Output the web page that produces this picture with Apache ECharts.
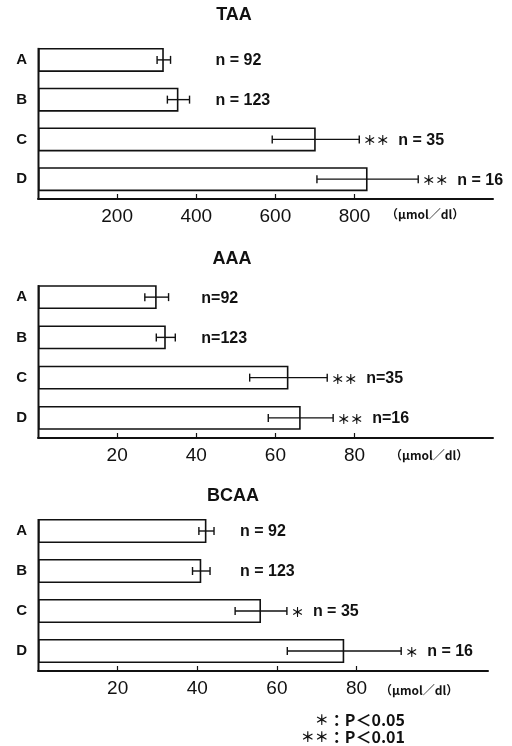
<!DOCTYPE html>
<html><head><meta charset="utf-8">
<script src="https://cdn.jsdelivr.net/npm/echarts@6/dist/echarts.min.js"></script>
<style>html,body{margin:0;padding:0;background:#fff}#c{width:512px;height:746px}</style>
</head><body><div id="c"></div>
<script>
const categories = ['A', 'B', 'C', 'D'];
const nValues = [92, 123, 35, 16];
const taaMean = [318, 355, 702, 833];
const taaErr = [17, 28, 110, 128];
const taaSig = ['', '', '＊＊', '＊＊'];
const aaaMean = [30, 32.3, 63.3, 66.4];
const aaaErr = [3, 2.4, 9.8, 8.2];
const aaaSig = ['', '', '＊＊', '＊＊'];
const bcaaMean = [42.3, 41, 56, 76.9];
const bcaaErr = [1.9, 2.2, 6.5, 14.3];
const bcaaSig = ['', '', '＊', '＊'];
const taaTicks = [200, 400, 600, 800];
const aaaTicks = [20, 40, 60, 80];
const bcaaTicks = [20, 40, 60, 80];
const titles = ['TAA', 'AAA', 'BCAA'];
const unitLabel = '（μmol／dl）';
const footStars = ['＊', '＊＊'];
const footText = ['：P＜0.05', '：P＜0.01'];

const INK = '#111';
const FONT = 'Liberation Sans, Arial, sans-serif';
const CJK = 'Noto Sans CJK JP';

const panels = [
  {mean: taaMean, err: taaErr, sig: taaSig, ticks: taaTicks, max: 1150, interval: 200, top: 40, height: 159, right: 19, nfmt: n => 'n = ' + n},
  {mean: aaaMean, err: aaaErr, sig: aaaSig, ticks: aaaTicks, max: 115, interval: 20, top: 277, height: 161, right: 19, nfmt: n => 'n=' + n},
  {mean: bcaaMean, err: bcaaErr, sig: bcaaSig, ticks: bcaaTicks, max: 113, interval: 20, top: 511, height: 160, right: 24, nfmt: n => 'n = ' + n}
];

function makeRender(p) {
  return function (params, api) {
    const i = params.dataIndex;
    const m = api.value(0), e = api.value(1), c = api.value(2);
    const lo = api.coord([m - e, c]);
    const hi = api.coord([m + e, c]);
    const y = lo[1];
    const cap = 4;
    const ls = {stroke: INK, lineWidth: 1.4};
    const children = [
      {type: 'line', shape: {x1: lo[0], y1: y, x2: hi[0], y2: y}, style: ls},
      {type: 'line', shape: {x1: lo[0], y1: y - cap, x2: lo[0], y2: y + cap}, style: ls},
      {type: 'line', shape: {x1: hi[0], y1: y - cap, x2: hi[0], y2: y + cap}, style: ls}
    ];
    let x, text;
    if (p.sig[i]) {
      x = hi[0] + 4;
      text = '{s|' + p.sig[i] + '}{g|}{n|' + p.nfmt(nValues[i]) + '}';
    } else {
      let col = 0;
      for (let k = 0; k < p.mean.length; k++) {
        if (!p.sig[k]) col = Math.max(col, api.coord([p.mean[k] + p.err[k], k])[0]);
      }
      x = col + 26;
      text = '{n|' + p.nfmt(nValues[i]) + '}';
    }
    children.push({
      type: 'text', x: x, y: y + 1,
      style: {
        text: text, verticalAlign: 'middle', align: 'left', fill: INK,
        rich: {
          s: {fontSize: 13, fontWeight: 'bold', fontFamily: CJK, fill: INK},
          g: {width: 9},
          n: {fontSize: 16, fontWeight: 'bold', fontFamily: FONT, fill: INK}
        }
      }
    });
    return {type: 'group', children: children};
  };
}

const grid = [], xAxis = [], yAxis = [], series = [];
panels.forEach((p, gi) => {
  grid.push({left: 38, right: p.right, top: p.top, height: p.height});
  xAxis.push({
    type: 'value', gridIndex: gi, min: 0, max: p.max, interval: p.interval,
    splitLine: {show: false},
    axisLine: {show: true, lineStyle: {color: INK, width: 2}},
    axisTick: {show: true, inside: true, length: 5, customValues: p.ticks, lineStyle: {color: INK, width: 1.2}},
    axisLabel: {customValues: p.ticks, color: INK, fontSize: 19, fontFamily: FONT, margin: 8}
  });
  yAxis.push({
    type: 'category', gridIndex: gi, data: categories, inverse: true,
    axisLine: {show: false},
    axisTick: {show: false},
    axisLabel: {color: INK, fontSize: 15, fontWeight: 'bold', fontFamily: FONT, margin: 11}
  });
  series.push({
    type: 'bar', xAxisIndex: gi, yAxisIndex: gi, data: p.mean, barWidth: 24,
    itemStyle: {color: '#fff', borderColor: INK, borderWidth: 1.6},
    silent: true, animation: false
  });
  series.push({
    type: 'custom', xAxisIndex: gi, yAxisIndex: gi,
    data: p.mean.map((m, k) => [m, p.err[k], k]),
    encode: {x: 0, y: 2},
    renderItem: makeRender(p), z: 5, animation: false, silent: true
  });
});

function txt(x, y, text, size, extra) {
  return {type: 'text', x: x, y: y, style: Object.assign({text: text, fontSize: size, fontWeight: 'bold', fontFamily: FONT, fill: INK, verticalAlign: 'middle'}, extra || {})};
}
const footRich = {
  s: {fontSize: 14, fontWeight: 'bold', fontFamily: CJK, fill: INK},
  t: {fontSize: 16, fontWeight: 'bold', fontFamily: CJK, fill: INK}
};
const baseGraphic = [
  txt(234, 15, titles[0], 18, {align: 'center'}),
  txt(232, 259, titles[1], 18, {align: 'center'}),
  txt(233, 496, titles[2], 18, {align: 'center'}),
  txt(386, 214, unitLabel, 12, {fontFamily: CJK}),
  txt(390, 455, unitLabel, 12, {fontFamily: CJK}),
  txt(380, 690, unitLabel, 12, {fontFamily: CJK}),
  {type: 'text', x: 405, y: 720, style: {text: '{s|' + footStars[0] + '}{t|' + footText[0] + '}', rich: footRich, align: 'right', verticalAlign: 'middle'}},
  {type: 'text', x: 405, y: 737, style: {text: '{s|' + footStars[1] + '}{t|' + footText[1] + '}', rich: footRich, align: 'right', verticalAlign: 'middle'}}
];

const chart = echarts.init(document.getElementById('c'), null, {renderer: 'canvas'});
chart.setOption({animation: false, backgroundColor: '#fff', grid, xAxis, yAxis, series, graphic: baseGraphic});

// vertical axis line: from top of the first bar down to the value axis
const vlines = panels.map((p, gi) => {
  const topPt = chart.convertToPixel({xAxisIndex: gi, yAxisIndex: gi}, [0, categories[0]]);
  const half = 12;
  const x = Math.round(topPt[0]) + 0.5;
  return {type: 'line', shape: {x1: x, y1: topPt[1] - half, x2: x, y2: p.top + p.height}, style: {stroke: INK, lineWidth: 2}, z: 10};
});
chart.setOption({graphic: baseGraphic.concat(vlines)});
</script></body></html>
